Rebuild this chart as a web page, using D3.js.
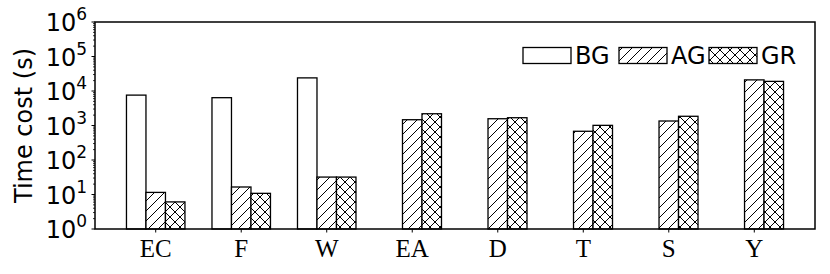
<!DOCTYPE html>
<html>
<head>
<meta charset="utf-8">
<script src="https://cdn.jsdelivr.net/npm/d3@7"></script>
<style>
  body { margin: 0; background: #fff; }
  svg { display: block; }
</style>
</head>
<body>
<svg id="chart" width="830" height="274"></svg>
<script>
// data
var categories = ["EC", "F", "W", "EA", "D", "T", "S", "Y"];
var bgValues = [7600, 6400, 24000, null, null, null, null, null];
var agValues = [11.5, 16.5, 32, 1470, 1570, 680, 1350, 21000];
var grValues = [6.1, 10.8, 32, 2190, 1680, 1010, 1850, 19000];
var seriesNames = ["BG", "AG", "GR"];
var yTickExps = [0, 1, 2, 3, 4, 5, 6];

var margin = { top: 22, right: 15, bottom: 45, left: 95 },
    width = 830 - margin.left - margin.right,
    height = 274 - margin.top - margin.bottom;

var svg = d3.select("#chart");

// hatch patterns
var defs = svg.append("defs");
var sp = 10;
var diag = defs.append("pattern")
    .attr("id", "hatchDiag")
    .attr("patternUnits", "userSpaceOnUse")
    .attr("width", sp).attr("height", sp);
diag.append("rect").attr("width", sp).attr("height", sp).attr("fill", "#fff");
diag.append("path")
    .attr("d", "M0," + sp + " L" + sp + ",0 M" + (-sp / 2) + "," + (sp / 2) + " L" + (sp / 2) + "," + (-sp / 2) +
        " M" + (sp / 2) + "," + (sp * 1.5) + " L" + (sp * 1.5) + "," + (sp / 2))
    .attr("stroke", "#000").attr("stroke-width", 1);

var cross = defs.append("pattern")
    .attr("id", "hatchCross")
    .attr("patternUnits", "userSpaceOnUse")
    .attr("width", sp).attr("height", sp);
cross.append("rect").attr("width", sp).attr("height", sp).attr("fill", "#fff");
cross.append("path")
    .attr("d", "M0," + sp + " L" + sp + ",0 M0,0 L" + sp + "," + sp)
    .attr("stroke", "#000").attr("stroke-width", 1);

var fills = ["#fff", "url(#hatchDiag)", "url(#hatchCross)"];

var g = svg.append("g")
    .attr("transform", "translate(" + margin.left + "," + margin.top + ")");

// scales
var x = d3.scaleLinear()
    .domain([-0.71, categories.length - 1 + 0.71])
    .range([0, width]);

var y = d3.scaleLog()
    .domain([1, 1e6])
    .range([height, 0]);

var barW = x(0.228) - x(0);

var series = [bgValues, agValues, grValues];
series.forEach(function (vals, s) {
    var pts = vals.map(function (v, i) { return { i: i, v: v }; })
        .filter(function (d) { return d.v != null; });
    g.selectAll(".bar" + s)
        .data(pts)
        .enter()
        .append("rect")
        .attr("x", function (d) { return x(d.i) + (s - 1) * barW - barW / 2; })
        .attr("y", function (d) { return y(d.v); })
        .attr("width", barW)
        .attr("height", function (d) { return height - y(d.v); })
        .attr("fill", fills[s])
        .attr("stroke", "#000")
        .attr("stroke-width", 1.3);
});

// frame
g.append("rect")
    .attr("width", width).attr("height", height)
    .attr("fill", "none").attr("stroke", "#000").attr("stroke-width", 1.5);

// y axis
var minorTicks = [];
for (var e = 0; e < 6; e++) {
    for (var m = 2; m < 10; m++) minorTicks.push(m * Math.pow(10, e));
}
g.selectAll(".minor")
    .data(minorTicks)
    .enter().append("line")
    .attr("x1", -2).attr("x2", 0)
    .attr("y1", function (d) { return y(d); })
    .attr("y2", function (d) { return y(d); })
    .attr("stroke", "#000").attr("stroke-width", 0.8);

g.selectAll(".major")
    .data(yTickExps)
    .enter().append("line")
    .attr("x1", -3.5).attr("x2", 0)
    .attr("y1", function (d) { return y(Math.pow(10, d)); })
    .attr("y2", function (d) { return y(Math.pow(10, d)); })
    .attr("stroke", "#000").attr("stroke-width", 1);

var yl = g.selectAll(".ylab")
    .data(yTickExps)
    .enter().append("text")
    .attr("x", -8)
    .attr("y", function (d) { return y(Math.pow(10, d)) + 9; })
    .attr("text-anchor", "end")
    .style("font-family", "DejaVu Sans")
    .style("font-size", "24px");
yl.append("tspan").text("10");
yl.append("tspan")
    .attr("dy", -11)
    .style("font-size", "17px")
    .text(function (d) { return d; });

svg.append("text")
    .attr("transform", "translate(32," + (margin.top + height / 2) + ") rotate(-90)")
    .attr("text-anchor", "middle")
    .style("font-family", "DejaVu Sans")
    .style("font-size", "24px")
    .text("Time cost (s)");

// x axis
g.selectAll(".xtick")
    .data(categories)
    .enter().append("line")
    .attr("x1", function (d, i) { return x(i); })
    .attr("x2", function (d, i) { return x(i); })
    .attr("y1", height).attr("y2", height + 3.5)
    .attr("stroke", "#000").attr("stroke-width", 1);

g.selectAll(".xlab")
    .data(categories)
    .enter().append("text")
    .attr("x", function (d, i) { return x(i); })
    .attr("y", height + 28)
    .attr("text-anchor", "middle")
    .style("font-family", "Liberation Serif")
    .style("font-size", "25px")
    .text(function (d) { return d; });

// legend
var legX = [523, 619, 709];
var legend = svg.append("g");
seriesNames.forEach(function (name, s) {
    legend.append("rect")
        .attr("x", legX[s]).attr("y", 47.5)
        .attr("width", 48).attr("height", 16)
        .attr("fill", fills[s])
        .attr("stroke", "#000").attr("stroke-width", 1.3);
    legend.append("text")
        .attr("x", legX[s] + 52).attr("y", 64)
        .style("font-family", "DejaVu Sans")
        .style("font-size", "24px")
        .text(name);
});
</script>
</body>
</html>
